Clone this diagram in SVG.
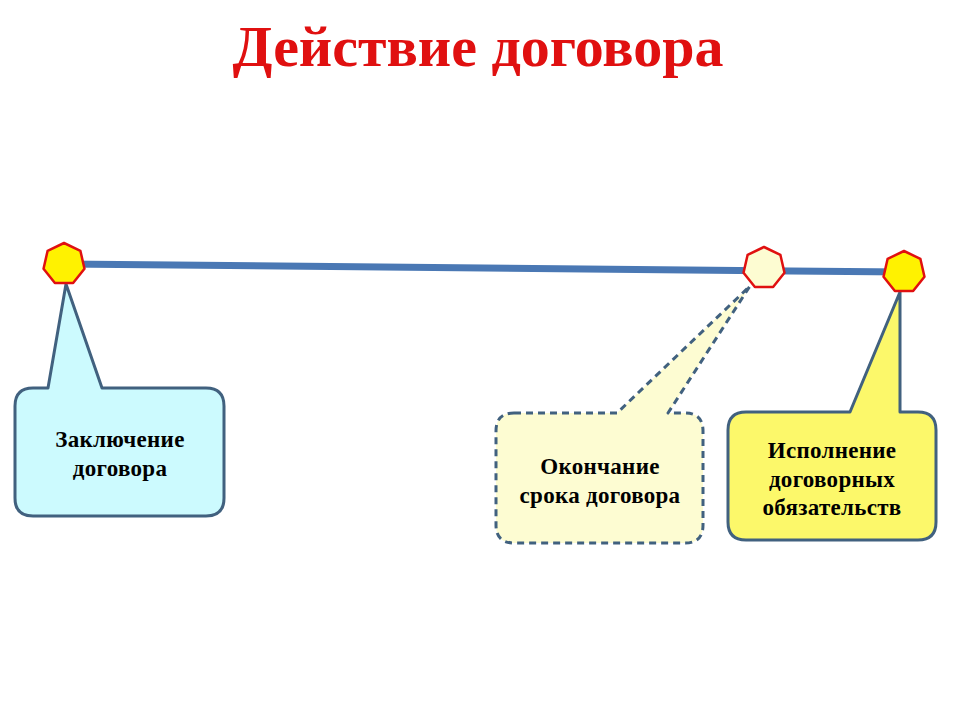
<svg xmlns="http://www.w3.org/2000/svg" xmlns:xlink="http://www.w3.org/1999/xlink" width="960" height="720" viewBox="0 0 960 720">
<style>
.t{font-family:"Liberation Serif",serif;font-weight:bold;font-size:23px;fill:#000;text-anchor:middle;letter-spacing:0.3px}
.box{stroke:#41617f;stroke-width:3;stroke-linejoin:round}
.hep{stroke:#e01010;stroke-width:2.5;stroke-linejoin:round}
</style>
<defs>
<polygon id="hp" points="0,-21 16.42,-13.09 20.47,4.67 9.11,18.92 -9.11,18.92 -20.47,4.67 -16.42,-13.09"/>
</defs>
<rect width="960" height="720" fill="#fff"/>
<text x="478" y="66" font-family="Liberation Serif,serif" font-weight="bold" font-size="58" fill="#e01010" text-anchor="middle">Действие договора</text>
<g id="connectors">
<line x1="64" y1="264" x2="904" y2="272" stroke="#4a78b4" stroke-width="7"/>
</g>
<g id="n1">
<path class="box" fill="#ccfafe" d="M33,388 H48 L66,284 L102,388 H206 Q224,388 224,406 V498 Q224,516 206,516 H33 Q15,516 15,498 V406 Q15,388 33,388 Z"/>
<text class="t" x="120" y="447">Заключение</text>
<text class="t" x="120" y="476">договора</text>
</g>
<g id="n2">
<path class="box" fill="#fdfcd2" stroke-dasharray="7,5" d="M514,413 H617 L750,286 L668,413 H685 Q703,413 703,431 V525 Q703,543 685,543 H514 Q496,543 496,525 V431 Q496,413 514,413 Z"/>
<text class="t" x="600" y="474">Окончание</text>
<text class="t" x="600" y="503">срока договора</text>
</g>
<g id="n3">
<path class="box" fill="#fcf86a" d="M746,412 H850 L900,292 V412 H918 Q936,412 936,430 V522 Q936,540 918,540 H746 Q728,540 728,522 V430 Q728,412 746,412 Z"/>
<text class="t" x="832" y="458">Исполнение</text>
<text class="t" x="832" y="487">договорных</text>
<text class="t" x="832" y="515">обязательств</text>
</g>
<g id="p1"><use xlink:href="#hp" x="64" y="264" class="hep" fill="#fff200"/></g>
<g id="p2"><use xlink:href="#hp" x="764" y="268" class="hep" fill="#fdfcd2"/></g>
<g id="p3"><use xlink:href="#hp" x="904" y="272" class="hep" fill="#fff200"/></g>
</svg>
